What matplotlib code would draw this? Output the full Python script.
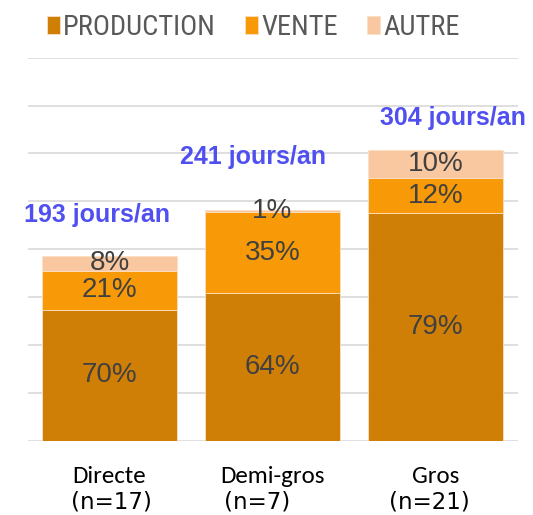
import matplotlib
matplotlib.use("Agg")
import matplotlib.pyplot as plt
from matplotlib import font_manager
import numpy as np

# ---- data ----
categories = ["Directe", "Demi-gros", "Gros"]
sample_sizes = ["(n=17)", "(n=7)", "(n=21)"]
total_days = [193, 241, 304]
production_pct = [70, 64, 79]
vente_pct = [21, 35, 12]
autre_pct = [8, 1, 10]
series_names = ["PRODUCTION", "VENTE", "AUTRE"]

colors = ["#D07F06", "#F89A07", "#F9C7A0"]

# ---- fonts ----
avail = {f.name for f in font_manager.fontManager.ttflist}
narrow = "Roboto Condensed" if "Roboto Condensed" in avail else "Liberation Sans"
tickfont = "Carlito" if "Carlito" in avail else "DejaVu Sans"

fig = plt.figure(figsize=(5.33, 5.15), dpi=100)
ax = fig.add_axes([0.0525, 0.1443, 0.919, 0.7437])

x = np.arange(len(categories))
width = 0.828
pcts = np.array([production_pct, vente_pct, autre_pct], dtype=float)
totals = np.array(total_days, dtype=float)
shares = pcts / pcts.sum(axis=0)
bottoms = np.zeros(len(categories))
for i, name in enumerate(series_names):
    h = shares[i] * totals
    ax.bar(x, h, width, bottom=bottoms, color=colors[i], label=name,
           edgecolor="#FBE0C4", linewidth=0.6, zorder=3)
    for j in range(len(categories)):
        ax.text(x[j], bottoms[j] + h[j] / 2, f"{int(pcts[i, j])}%",
                ha="center", va="center", fontsize=20, color="#404040",
                family="Liberation Sans", zorder=4)
    bottoms += h

# total labels
label_dx = [-0.077, -0.12, 0.107]
label_dy = [43, 55, 33]
for j in range(len(categories)):
    ax.text(x[j] + label_dx[j], totals[j] + label_dy[j], f"{total_days[j]} jours/an",
            ha="center", va="center", fontsize=18, fontweight="bold",
            color="#5050F0", family="Liberation Sans", zorder=5)

ax.set_xlim(-0.5, 2.506)
ax.set_ylim(0, 400)
ax.set_yticks(np.arange(0, 401, 50))
ax.yaxis.grid(True, color="#D9D9D9", linewidth=1.2, zorder=0)
ax.set_axisbelow(True)
ax.tick_params(axis="y", left=False, labelleft=False)
ax.tick_params(axis="x", bottom=False, pad=15)
for s in ax.spines.values():
    s.set_visible(False)

ax.set_xticks(x)
ax.set_xticklabels(categories, fontsize=18, family=tickfont, color="black")

# sample-size second line
n_dx = [1.5, -11, -4.5]  # points
for j in range(len(categories)):
    ax.annotate(sample_sizes[j], xy=(x[j], 0), xycoords=("data", "axes fraction"),
                xytext=(n_dx[j], -49), textcoords="offset points",
                ha="center", va="baseline", fontsize=16.5,
                family="DejaVu Sans", color="black", annotation_clip=False)

leg = fig.legend(loc="center", bbox_to_anchor=(0.475, 0.947), ncol=3,
                 frameon=False, handlelength=0.47, handleheight=0.6,
                 handletextpad=0.12, columnspacing=1.0, borderpad=0,
                 prop={"family": narrow, "size": 20.5})
for t in leg.get_texts():
    t.set_color("#595959")

fig.savefig("out.png", dpi=100)
